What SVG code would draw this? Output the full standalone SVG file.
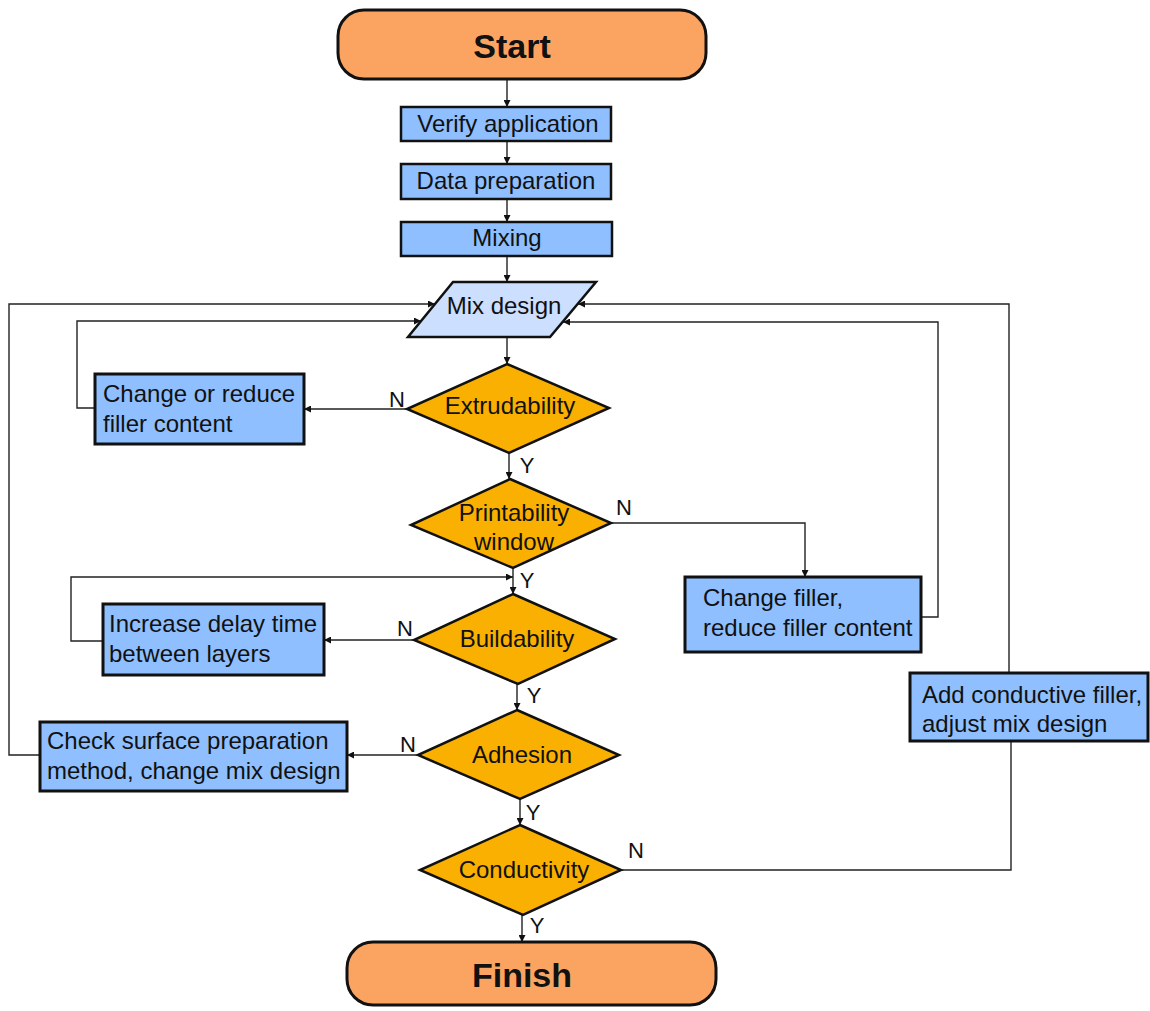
<svg xmlns="http://www.w3.org/2000/svg" width="1150" height="1011" viewBox="0 0 1150 1011">
<defs>
<marker id="ah" viewBox="0 0 10 10" refX="10" refY="5" markerWidth="7" markerHeight="7" markerUnits="userSpaceOnUse" orient="auto">
<path d="M0,0 L10,5 L0,10 z" fill="#111"/>
</marker>
<style>
.term{fill:#FBA462;stroke:#111;stroke-width:3}
.box{fill:#8FBFFF;stroke:#111;stroke-width:3}
.io{fill:#CCDFFF;stroke:#111;stroke-width:2.5}
.dec{fill:#F9B000;stroke:#111;stroke-width:2.5}
.t{font-family:"Liberation Sans",Arial,sans-serif;font-size:24px;fill:#111}
.c{text-anchor:middle}
.tt{font-family:"Liberation Sans",Arial,sans-serif;font-size:34px;font-weight:bold;fill:#111;text-anchor:middle}
.lbl{font-family:"Liberation Sans",Arial,sans-serif;font-size:22px;fill:#111;text-anchor:middle}
.con{fill:none;stroke:#222;stroke-width:1.4}
.arr{marker-end:url(#ah)}
</style>
</defs>
<rect width="1150" height="1011" fill="#fff"/>

<g id="connectors">
<path class="con arr" d="M507,80 V107"/>
<path class="con arr" d="M507,141 V164"/>
<path class="con arr" d="M507,199 V222"/>
<path class="con arr" d="M507,256 V282"/>
<path class="con arr" d="M507,337 V364"/>
<path class="con arr" d="M407,409 H304"/>
<path class="con arr" d="M95,408 H77 V321 H421"/>
<path class="con arr" d="M509,453 V479"/>
<path class="con arr" d="M611,523 H805 V577"/>
<path class="con arr" d="M921,617 H938 V322 H563"/>
<path class="con arr" d="M513,568 V594"/>
<path class="con arr" d="M103,641 H71 V577 H513"/>
<path class="con arr" d="M414,640 H324"/>
<path class="con arr" d="M517,684 V710"/>
<path class="con arr" d="M418,755 H347"/>
<path class="con arr" d="M40,755 H9 V304 H435"/>
<path class="con arr" d="M520,799 V825"/>
<path class="con" d="M621,870 H1011 V741"/>
<path class="con arr" d="M1009,673 V304 H578"/>
<path class="con arr" d="M522,915 V942"/>
<text class="lbl" x="397" y="407">N</text>
<text class="lbl" x="527" y="473">Y</text>
<text class="lbl" x="624" y="515">N</text>
<text class="lbl" x="527" y="588">Y</text>
<text class="lbl" x="405" y="636">N</text>
<text class="lbl" x="534" y="703">Y</text>
<text class="lbl" x="408" y="752">N</text>
<text class="lbl" x="533" y="820">Y</text>
<text class="lbl" x="636" y="858">N</text>
<text class="lbl" x="537" y="933">Y</text>
</g>

<g id="start">
<rect class="term" x="338" y="10" width="368" height="69" rx="26"/>
<text class="tt" x="512" y="58">Start</text>
</g>
<g id="verify">
<rect class="box" x="401" y="107" width="210" height="34" style="stroke-width:2.5"/>
<text class="t c" x="508" y="132">Verify application</text>
</g>
<g id="data">
<rect class="box" x="401" y="164" width="210" height="35" style="stroke-width:2.5"/>
<text class="t c" x="506" y="189">Data preparation</text>
</g>
<g id="mixing">
<rect class="box" x="401" y="222" width="211" height="34" style="stroke-width:2.5"/>
<text class="t c" x="507" y="246">Mixing</text>
</g>
<g id="mixdesign">
<polygon class="io" points="453,282 596,282 550,337 408,337"/>
<text class="t c" x="504" y="314">Mix design</text>
</g>
<g id="extrudability">
<polygon class="dec" points="507,364 609,408 509,453 407,409"/>
<text class="t c" x="510" y="414">Extrudability</text>
</g>
<g id="changereduce">
<rect class="box" x="95" y="374" width="209" height="70"/>
<text class="t" x="103" y="402">Change or reduce</text>
<text class="t" x="103" y="432">filler content</text>
</g>
<g id="printability">
<polygon class="dec" points="510,479 611,523 513,568 411,525"/>
<text class="t c" x="514" y="521">Printability</text>
<text class="t c" x="514" y="550">window</text>
</g>
<g id="changefiller">
<rect class="box" x="685" y="577" width="236" height="75"/>
<text class="t" x="703" y="606">Change filler,</text>
<text class="t" x="703" y="636">reduce filler content</text>
</g>
<g id="buildability">
<polygon class="dec" points="513,594 615,639 518,684 414,640"/>
<text class="t c" x="517" y="647">Buildability</text>
</g>
<g id="increasedelay">
<rect class="box" x="103" y="604" width="221" height="71"/>
<text class="t" x="109" y="632">Increase delay time</text>
<text class="t" x="109" y="662">between layers</text>
</g>
<g id="adhesion">
<polygon class="dec" points="517,710 619,755 520,799 418,755"/>
<text class="t c" x="522" y="763">Adhesion</text>
</g>
<g id="checksurface">
<rect class="box" x="40" y="722" width="307" height="69"/>
<text class="t" x="47" y="749">Check surface preparation</text>
<text class="t" x="47" y="779">method, change mix design</text>
</g>
<g id="conductivity">
<polygon class="dec" points="520,825 621,870 523,915 420,870"/>
<text class="t c" x="524" y="878">Conductivity</text>
</g>
<g id="addconductive">
<rect class="box" x="910" y="673" width="238" height="68"/>
<text class="t" x="922" y="703">Add conductive filler,</text>
<text class="t" x="922" y="732">adjust mix design</text>
</g>
<g id="finish">
<rect class="term" x="347" y="942" width="369" height="63" rx="26"/>
<text class="tt" x="522" y="987">Finish</text>
</g>
</svg>
